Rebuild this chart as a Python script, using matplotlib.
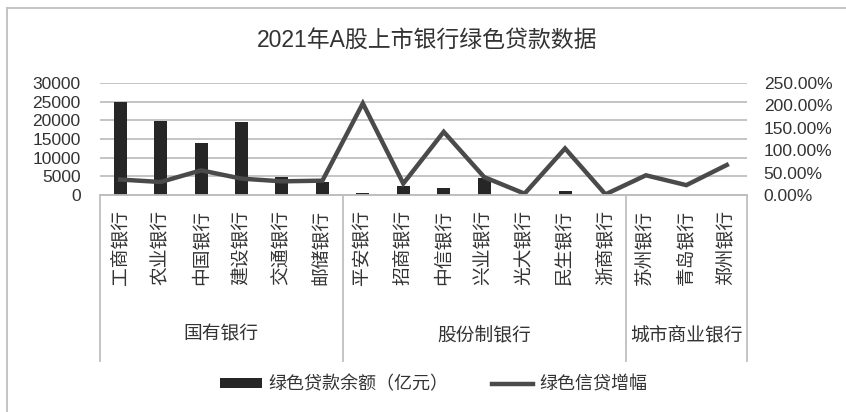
import matplotlib
matplotlib.use("Agg")
import matplotlib.pyplot as plt
from matplotlib.transforms import blended_transform_factory
from matplotlib.lines import Line2D

plt.rcParams['font.family'] = ['Liberation Sans', 'Noto Sans CJK SC']

title = "2021年A股上市银行绿色贷款数据"
banks = ["工商银行", "农业银行", "中国银行", "建设银行", "交通银行", "邮储银行",
         "平安银行", "招商银行", "中信银行", "兴业银行", "光大银行", "民生银行", "浙商银行",
         "苏州银行", "青岛银行", "郑州银行"]
groups = ["国有银行", "股份制银行", "城市商业银行"]
group_sizes = [6, 7, 3]
loans = [24800, 19800, 14000, 19600, 4700, 3600,
         650, 2500, 1900, 4600, 0, 1000, 0,
         0, 0, 0]
growth = [0.345, 0.29, 0.55, 0.365, 0.305, 0.32,
          2.045, 0.255, 1.41, 0.40, 0.03, 1.04, 0.015,
          0.44, 0.22, 0.67]
left_ticks = [0, 5000, 10000, 15000, 20000, 25000, 30000]
right_ticks = [0, 0.5, 1.0, 1.5, 2.0, 2.5]

W, H = 846, 412
fig = plt.figure(figsize=(W / 100, H / 100), dpi=100)
ax = fig.add_axes([100 / W, 1 - 195 / H, 647 / W, 112 / H])
ax2 = ax.twinx()

text_c = "#333333"
grid_c = "#bfbfbf"

x = list(range(len(banks)))
ax.bar(x, loans, width=0.32, color="#262626", zorder=3, label="绿色贷款余额（亿元）")
ax2.plot(x, growth, color="#4a4a4a", lw=3.2, solid_joinstyle="miter", label="绿色信贷增幅")

ax.set_xlim(-0.5, len(banks) - 0.5)
ax.set_ylim(0, 30000)
ax2.set_ylim(0, 2.5)
ax.set_yticks(left_ticks)
ax.set_yticklabels([str(v) for v in left_ticks])
ax2.set_yticks(right_ticks)
ax2.set_yticklabels([f"{v * 100:.2f}%" for v in right_ticks])
ax.set_xticks([])

ax.yaxis.grid(True, color=grid_c, lw=1.3, zorder=0)
ax.set_axisbelow(True)
for a in (ax, ax2):
    for s in ("left", "right", "top"):
        a.spines[s].set_visible(False)
    a.spines["bottom"].set_color(grid_c)
    a.spines["bottom"].set_linewidth(1.3)
    a.tick_params(axis="y", length=0, labelsize=12.5, colors=text_c)
ax.tick_params(axis="y", pad=14)
ax2.tick_params(axis="y", pad=12)

# multi-level category axis
tr = blended_transform_factory(ax.transData, ax.transAxes)
for i, name in enumerate(banks):
    ax.text(i, -0.13, name, rotation=90, ha="center", va="top", fontsize=13.5,
            color=text_c, transform=tr)
edges = [-0.5]
for n in group_sizes:
    edges.append(edges[-1] + n)
for e in edges:
    ax.add_line(Line2D([e, e], [0, -1.48], transform=tr, color=grid_c, lw=1.3, clip_on=False))
for g, a0, a1 in zip(groups, edges[:-1], edges[1:]):
    ax.text((a0 + a1) / 2, -1.25, g, ha="center", va="center", fontsize=13.5,
            color=text_c, transform=tr)

fig.text(0.505, 1 - 40 / H, title, ha="center", va="center", fontsize=16.5, color=text_c)

# chart frame (top & left edges visible)
fig.add_artist(Line2D([7 / W, 1], [1 - 8 / H, 1 - 8 / H], color=grid_c, lw=1.3))
fig.add_artist(Line2D([7 / W, 7 / W], [0, 1 - 8 / H], color=grid_c, lw=1.3))

h1, l1 = ax.get_legend_handles_labels()
h2, l2 = ax2.get_legend_handles_labels()
fig.legend(h1 + h2, l1 + l2, loc="center", bbox_to_anchor=(434 / W, 1 - 385 / H), ncol=2,
           frameon=False, fontsize=13, handlelength=2.3, handleheight=0.5,
           handletextpad=0.35, columnspacing=2.4, labelcolor=text_c)

fig.savefig("out.png", dpi=100)
